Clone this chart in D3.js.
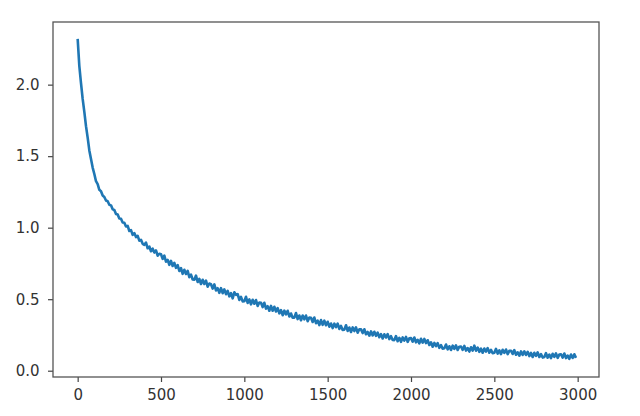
<!DOCTYPE html>
<html>
<head>
<meta charset="utf-8">
<script src="https://cdn.jsdelivr.net/npm/d3@7"></script>
<style>
  html, body { margin: 0; padding: 0; background: #ffffff; }
  svg { display: block; }
</style>
</head>
<body>
<svg id="chart" width="640" height="416"></svg>
<script>
// ---- data ----
const stepInterval = 10;   // training step spacing between recorded values
const lossValues = [
  2.32, 2.13, 2.01, 1.90, 1.81, 1.71, 1.63, 1.54, 1.48, 1.42,
  1.375, 1.325, 1.305, 1.265, 1.255, 1.225, 1.215, 1.19, 1.185, 1.16,
  1.156, 1.128, 1.124, 1.096, 1.092, 1.064, 1.062, 1.036, 1.034, 1.008,
  1.012, 0.977, 0.983, 0.950, 0.962, 0.934, 0.943, 0.909, 0.915, 0.887,
  0.880, 0.896, 0.856, 0.868, 0.835, 0.853, 0.826, 0.841, 0.804, 0.818,
  0.814, 0.782, 0.805, 0.762, 0.775, 0.740, 0.768, 0.732, 0.754, 0.719,
  0.738, 0.697, 0.717, 0.677, 0.706, 0.676, 0.698, 0.654, 0.672, 0.638,
  0.636, 0.665, 0.620, 0.642, 0.606, 0.636, 0.606, 0.630, 0.587, 0.609,
  0.605, 0.574, 0.603, 0.561, 0.577, 0.544, 0.577, 0.542, 0.569, 0.535,
  0.558, 0.520, 0.543, 0.506, 0.548, 0.530, 0.536, 0.495, 0.516, 0.485,
  0.486, 0.517, 0.474, 0.498, 0.464, 0.496, 0.468, 0.494, 0.453, 0.477,
  0.475, 0.445, 0.475, 0.434, 0.451, 0.419, 0.453, 0.419, 0.447, 0.414,
  0.438, 0.401, 0.424, 0.388, 0.420, 0.394, 0.419, 0.379, 0.400, 0.370,
  0.371, 0.403, 0.361, 0.386, 0.353, 0.386, 0.359, 0.386, 0.346, 0.371,
  0.370, 0.341, 0.372, 0.332, 0.350, 0.319, 0.354, 0.321, 0.350, 0.318,
  0.342, 0.308, 0.330, 0.298, 0.329, 0.304, 0.329, 0.292, 0.313, 0.285,
  0.287, 0.318, 0.278, 0.302, 0.271, 0.303, 0.277, 0.303, 0.266, 0.290,
  0.289, 0.263, 0.290, 0.255, 0.271, 0.245, 0.275, 0.247, 0.272, 0.244,
  0.266, 0.234, 0.256, 0.225, 0.255, 0.232, 0.256, 0.221, 0.241, 0.215,
  0.214, 0.242, 0.206, 0.230, 0.202, 0.233, 0.211, 0.236, 0.202, 0.226,
  0.228, 0.203, 0.232, 0.198, 0.216, 0.191, 0.223, 0.196, 0.222, 0.193,
  0.213, 0.180, 0.199, 0.168, 0.194, 0.171, 0.193, 0.160, 0.179, 0.154,
  0.157, 0.183, 0.149, 0.171, 0.145, 0.175, 0.153, 0.177, 0.145, 0.168,
  0.169, 0.146, 0.173, 0.141, 0.158, 0.134, 0.164, 0.140, 0.175, 0.140,
  0.162, 0.132, 0.154, 0.126, 0.155, 0.134, 0.158, 0.126, 0.146, 0.122,
  0.126, 0.153, 0.120, 0.142, 0.116, 0.146, 0.124, 0.148, 0.116, 0.139,
  0.140, 0.117, 0.144, 0.112, 0.129, 0.105, 0.135, 0.110, 0.135, 0.110,
  0.132, 0.102, 0.124, 0.096, 0.125, 0.104, 0.128, 0.096, 0.116, 0.092,
  0.096, 0.123, 0.091, 0.113, 0.088, 0.118, 0.097, 0.121, 0.090, 0.113,
  0.115, 0.092, 0.120, 0.088, 0.106, 0.083, 0.113, 0.089, 0.115, 0.090
];
const xTicks = [0, 500, 1000, 1500, 2000, 2500, 3000];
const yTicks = [0.0, 0.5, 1.0, 1.5, 2.0];
const yTickLabels = ["0.0", "0.5", "1.0", "1.5", "2.0"];

// ---- layout ----
const W = 640, H = 416;
const plot = { left: 53, top: 22, right: 599, bottom: 377 };

const svg = d3.select("#chart");
svg.append("rect").attr("width", W).attr("height", H).attr("fill", "#ffffff");

const x = d3.scaleLinear().domain([-148, 3128]).range([plot.left, plot.right]);
const y = d3.scaleLinear().domain([-0.044, 2.438]).range([plot.bottom, plot.top]);

const data = lossValues.map((v, i) => ({ step: i * stepInterval, loss: v }));

// line
svg.append("path")
  .datum(data)
  .attr("fill", "none")
  .attr("stroke", "#1f77b4")
  .attr("stroke-width", 2.6)
  .attr("stroke-linejoin", "round")
  .attr("d", d3.line().x(d => x(d.step)).y(d => y(d.loss)));

// axes
const xAxis = d3.axisBottom(x).tickValues(xTicks).tickFormat(d3.format("d")).tickSize(5).tickPadding(7);
const yAxis = d3.axisLeft(y).tickValues(yTicks).tickFormat((d, i) => yTickLabels[i]).tickSize(5).tickPadding(8.5);

const gx = svg.append("g").attr("transform", `translate(0,${plot.bottom})`).call(xAxis);
const gy = svg.append("g").attr("transform", `translate(${plot.left},0)`).call(yAxis);

[gx, gy].forEach(g => {
  g.select(".domain").remove();
  g.selectAll(".tick line").attr("stroke", "#444").attr("stroke-width", 1.2);
  g.selectAll(".tick text")
    .attr("fill", "#333")
    .style("font-family", "'DejaVu Sans', sans-serif")
    .style("font-size", "15px");
});

// frame (spines)
svg.append("rect")
  .attr("x", plot.left).attr("y", plot.top)
  .attr("width", plot.right - plot.left).attr("height", plot.bottom - plot.top)
  .attr("fill", "none").attr("stroke", "#555").attr("stroke-width", 1.3);
</script>
</body>
</html>
